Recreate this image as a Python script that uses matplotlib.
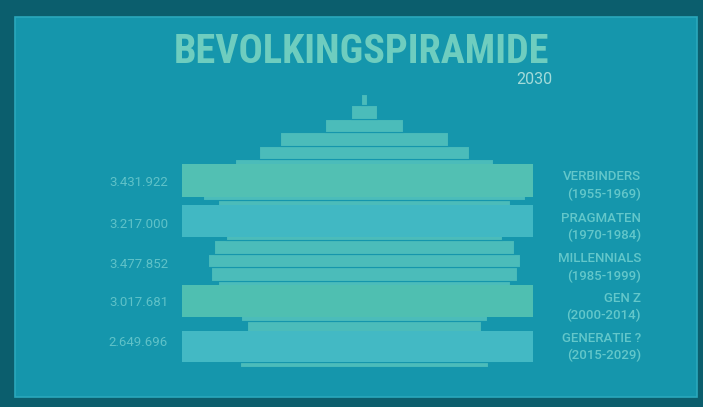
import matplotlib
matplotlib.use("Agg")
import matplotlib.pyplot as plt
from matplotlib import font_manager
from matplotlib.patches import Rectangle

# 5-jaarsgroepen van de piramide (leeftijd in 2030), halve breedte per groep
age_edges = [0, 2, 7, 12, 17, 22, 27, 32, 37, 42, 47, 52, 57, 62, 67, 72, 77, 82, 87, 92, 97, 101]
half_width = [124, 125, 121, 117, 123, 135, 146, 153, 156, 150, 138, 145, 146, 161, 150, 129, 105, 84, 39, 13, 3]

# generaties
gen_names = ["VERBINDERS", "PRAGMATEN", "MILLENNIALS", "GEN Z", "GENERATIE ?"]
gen_years = ["(1955-1969)", "(1970-1984)", "(1985-1999)", "(2000-2014)", "(2015-2029)"]
gen_totals = ["3.431.922", "3.217.000", "3.477.852", "3.017.681", "2.649.696"]
gen_box_lo = [63.0, 48.1, None, 18.5, 1.9]
gen_box_hi = [75.2, 60.0, None, 30.4, 13.3]
gen_box_color = ["#52c0b3", "#41b8c3", None, "#4fbfb1", "#43b9c4"]

W, H = 703, 407

# lettertype: smal als het kan
names = {f.name for f in font_manager.fontManager.ttflist}
title_font = "Roboto"
for cand in ["Roboto Condensed", "Liberation Sans Narrow", "Open Sans Condensed"]:
    if cand in names:
        title_font = cand
        break
plt.rcParams['font.family'] = ["Roboto", "DejaVu Sans"]

fig = plt.figure(figsize=(W / 100, H / 100), dpi=100)
fig.patch.set_facecolor("#0b5e6d")

# scherm
screen_col = "#1596ac"
fig.patches.append(Rectangle((15 / W, 1 - 397 / H), (697 - 15) / W, (397 - 17) / H,
                             transform=fig.transFigure, facecolor=screen_col,
                             edgecolor="#2aa8bc", linewidth=1.2, zorder=-5))


def fx(x):
    return x / W


def fy(y):
    return 1 - y / H


# assen: 1 eenheid = 1 px horizontaal, 2.7 px per jaar verticaal
x0_px, y0_px = 364, 367
ax = fig.add_axes([fx(x0_px - 200), fy(y0_px), 400 / W, 101 * 2.7 / H])
ax.set_zorder(2)
ax.set_xlim(-200, 200)
ax.set_ylim(0, 101)
ax.axis("off")
ax.patch.set_visible(False)

lows = age_edges[:-1]
heights = [b - a for a, b in zip(age_edges[:-1], age_edges[1:])]
ax.barh(lows, [2 * w for w in half_width], height=heights, left=[-w for w in half_width],
        align="edge", color="#4bbcba", edgecolor=screen_col, linewidth=0.8, zorder=2)

# generatieblokken
for lo, hi, c in zip(gen_box_lo, gen_box_hi, gen_box_color):
    if lo is None:
        continue
    ax.add_patch(Rectangle((-182, lo), 351, hi - lo, facecolor=c, edgecolor="none", zorder=3))

# titel
fig.text(fx(361), fy(52), "BEVOLKINGSPIRAMIDE", ha="center", va="center",
         fontsize=29, fontweight="bold", color="#6ecdbf", family=[title_font, "DejaVu Sans"])
fig.text(fx(552), fy(80), "2030", ha="right", va="center", fontsize=11.5, color="#a3dbd9")

# labels
val_y = [183, 224, 265, 302, 342]
name_y = [177, 218, 259, 298, 338]
for i in range(len(gen_names)):
    fig.text(fx(168), fy(val_y[i]), gen_totals[i], ha="right", va="center",
             fontsize=9.5, color="#5fc2c8")
    fig.text(fx(641), fy(name_y[i]), gen_names[i], ha="right", va="center",
             fontsize=9.5, color="#63c7ca", fontweight="medium")
    fig.text(fx(641), fy(name_y[i] + 17), gen_years[i], ha="right", va="center",
             fontsize=9.5, color="#63c7ca", fontweight="medium")

fig.savefig("out.png", dpi=100, facecolor=fig.get_facecolor())
